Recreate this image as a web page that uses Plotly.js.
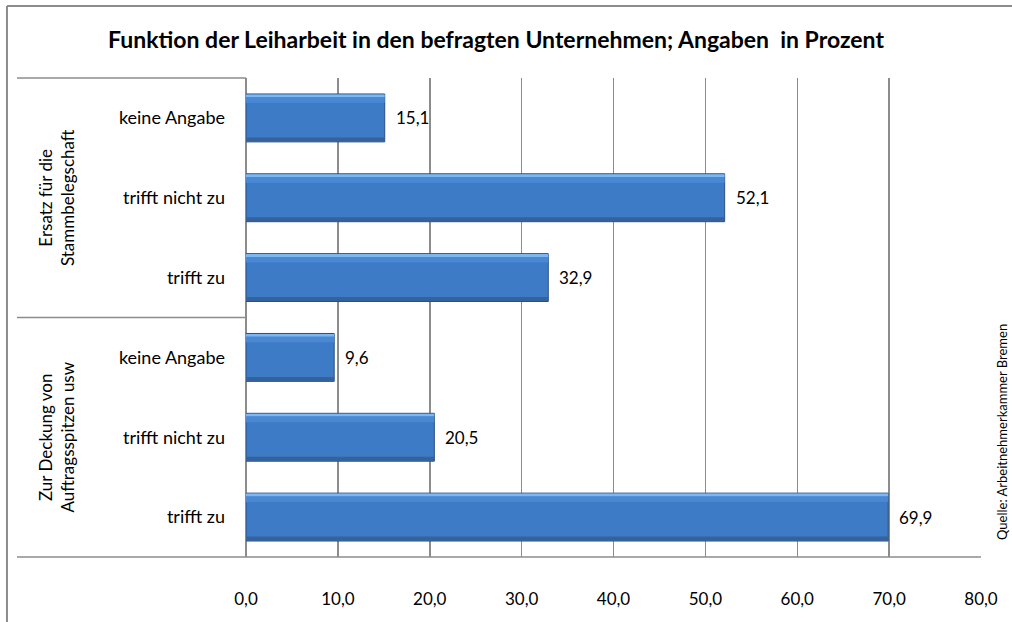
<!DOCTYPE html>
<html>
<head>
<meta charset="utf-8">
<script src="https://cdn.plot.ly/plotly-3.0.1.min.js"></script>
<style>html,body{margin:0;padding:0;background:#fff;}#chart{width:1012px;height:622px;}</style>
</head>
<body>
<div id="chart"></div>
<script>
const chartTitle = "Funktion der Leiharbeit in den befragten Unternehmen; Angaben  in Prozent";
const groups = ["Ersatz für die<br>Stammbelegschaft", "Zur Deckung von<br>Auftragsspitzen usw"];
const subcats = ["keine Angabe", "trifft nicht zu", "trifft zu"];
const valuesErsatz = [15.1, 52.1, 32.9];
const valuesDeckung = [9.6, 20.5, 69.9];
const xTicks = [0, 10, 20, 30, 40, 50, 60, 70, 80];
const sourceText = "Quelle: Arbeitnehmerkammer Bremen";

const groupValues = [valuesErsatz, valuesDeckung];
const yPos = [], xVals = [], tickText = [];
groupValues.forEach((vals, g) => {
  vals.forEach((v, i) => {
    yPos.push(g * subcats.length + i);
    xVals.push(v);
    tickText.push(subcats[i]);
  });
});

const FONT = "Lato, 'Liberation Sans', sans-serif";
const barW = 0.6;
const base = {type: 'bar', orientation: 'h', x: xVals, y: yPos, hoverinfo: 'skip', showlegend: false};
const traces = [
  Object.assign({}, base, {width: barW, marker: {color: '#3E7BC7', line: {color: '#2B4F80', width: 1}}}),
  Object.assign({}, base, {width: 0.035, offset: -barW/2 + 0.006, marker: {color: '#7DB6F0', line: {width: 0}}}),
  Object.assign({}, base, {width: 0.07, offset: -barW/2 + 0.041, marker: {color: '#4A88D4', line: {width: 0}}}),
  Object.assign({}, base, {width: 0.05, offset: barW/2 - 0.056, marker: {color: '#35629A', line: {width: 0}}})
];

const annotations = [];
xVals.forEach((v, k) => {
  annotations.push({x: v, y: yPos[k], xref: 'x', yref: 'y', text: v.toFixed(1).replace('.', ','),
    showarrow: false, xanchor: 'left', xshift: 9, font: {family: FONT, size: 17, color: '#000'}});
});
groups.forEach((gname, g) => {
  annotations.push({x: -0.258, xref: 'paper', y: g * subcats.length + (subcats.length - 1) / 2, yref: 'y',
    text: gname, textangle: -90, showarrow: false, xanchor: 'center', yanchor: 'middle',
    font: {family: FONT, size: 17, color: '#000'}});
});
annotations.push({x: (1002 - 246) / 735, y: 1 - (432 - 78) / 479, xref: 'paper', yref: 'paper', text: sourceText,
  textangle: -90, showarrow: false, xanchor: 'center', yanchor: 'middle', font: {family: FONT, size: 13, color: '#000'}});

// layout lines
const lineStyle = {color: '#8C8C8C', width: 1.5};
const shapes = [
  {type: 'line', xref: 'paper', yref: 'paper', x0: -0.3116, x1: 0, y0: 1, y1: 1, line: lineStyle},
  {type: 'line', xref: 'paper', yref: 'y', x0: -0.3116, x1: 0, y0: subcats.length - 0.5, y1: subcats.length - 0.5, line: lineStyle},
  {type: 'line', xref: 'paper', yref: 'paper', x0: -0.3116, x1: 1, y0: 0, y1: 0, line: lineStyle},
  {type: 'line', xref: 'paper', yref: 'paper', x0: -0.3252, x1: 1.1, y0: 1.1503, y1: 1.1503, line: {color: '#8C8C8C', width: 2}},
  {type: 'line', xref: 'paper', yref: 'paper', x0: -0.3252, x1: -0.3252, y0: -0.2, y1: 1.1503, line: {color: '#8C8C8C', width: 2}}
];

const layout = {
  width: 1012, height: 622,
  margin: {l: 246, r: 31, t: 78, b: 65},
  paper_bgcolor: '#fff', plot_bgcolor: '#fff',
  separators: ',.',
  barmode: 'overlay',
  title: {text: '<b>' + chartTitle + '</b>', x: 496/1012, xanchor: 'center', xref: 'container',
    y: 1 - 40/622, yanchor: 'middle', yref: 'container', font: {family: FONT, size: 23, color: '#000'}},
  xaxis: {range: [0, 80], tickvals: xTicks, tickformat: '.1f', showgrid: true, gridcolor: '#8C8C8C', gridwidth: 1.5,
    zeroline: true, zerolinecolor: '#8C8C8C', zerolinewidth: 1.5, showline: false, ticks: '',
    ticklabelstandoff: 30, tickfont: {family: FONT, size: 17, color: '#000'}, fixedrange: true},
  yaxis: {range: [yPos.length - 0.5, -0.5], tickvals: yPos, ticktext: tickText, showgrid: false, zeroline: false,
    showline: false, ticks: '', ticklabelstandoff: 20, tickfont: {family: FONT, size: 18, color: '#000'}, fixedrange: true},
  shapes: shapes,
  annotations: annotations
};

Plotly.newPlot('chart', traces, layout, {displayModeBar: false, staticPlot: true});
</script>
</body>
</html>
